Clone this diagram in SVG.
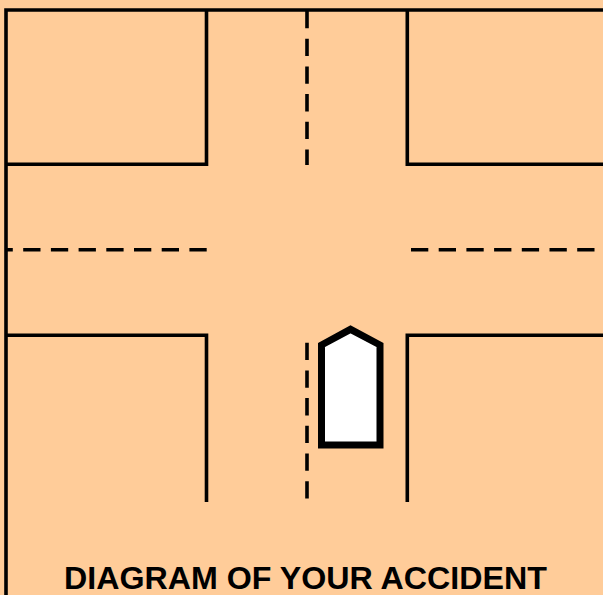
<svg xmlns="http://www.w3.org/2000/svg" width="603" height="595" viewBox="0 0 603 595">
<style>
.s{fill:none;stroke:#000;stroke-width:3.6}
.d{fill:none;stroke:#000;stroke-width:3.6;stroke-dasharray:17.3 10.4}
text{font-family:"Liberation Sans",Arial,sans-serif;font-weight:bold;font-size:32.200px;fill:#000}
</style>
<rect width="603" height="595" fill="#FFCC99"/>
<g id="roads">
<path class="s" d="M6 595V10H603"/>
<path class="s" d="M6 164.300H206.500V10"/>
<path class="s" d="M407.300 10V164.300H603"/>
<path class="s" d="M6 335.300H206.500V502"/>
<path class="s" d="M603 335.300H407.300V502"/>
<path class="d" d="M307 11V165"/>
<path class="d" d="M307 342.700V499"/>
<path class="d" d="M206.700 249.700H6"/>
<path class="d" d="M411 249.700H603"/>
</g>
<g id="car">
<path d="M321.500 445V345L350.500 329.300L380 345V445Z" fill="#fff" stroke="#000" stroke-width="7"/>
</g>
<g id="title">
<text x="305.500" y="588.500" text-anchor="middle">DIAGRAM OF YOUR ACCIDENT</text>
</g>
</svg>
